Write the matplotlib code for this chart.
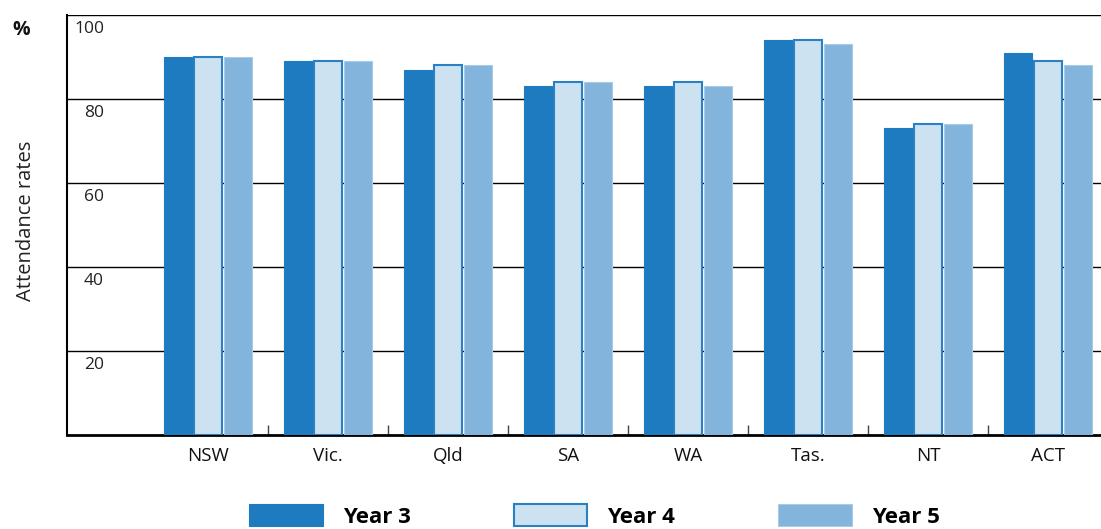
import matplotlib
matplotlib.use("Agg")
import matplotlib.pyplot as plt
import numpy as np

STATES = ["NSW", "Vic.", "Qld", "SA", "WA", "Tas.", "NT", "ACT"]
YEAR3 = [90, 89, 87, 83, 83, 94, 73, 91]
YEAR4 = [90, 89, 88, 84, 84, 94, 74, 89]
YEAR5 = [90, 89, 88, 84, 83, 93, 74, 88]
SERIES = ["Year 3", "Year 4", "Year 5"]
Y_TICKS = [20, 40, 60, 80, 100]

FILLS = ["#1f7bc0", "#cde2f0", "#82b4dc"]
EDGES = ["#1f7bc0", "#2a80c4", "#a9cbe8"]

plt.rcParams["font.family"] = ["Open Sans", "DejaVu Sans"]

fig = plt.figure(figsize=(11.01, 5.29), dpi=100)
ax = fig.add_axes([0.0609, 0.1777, 0.9391, 0.7939])

x = np.arange(len(STATES))
width = 0.233
step = 0.25
for k, vals in enumerate([YEAR3, YEAR4, YEAR5]):
    lw = 1.5 if k == 1 else 0.8
    ax.bar(x + (k - 1) * step, vals, width, color=FILLS[k], edgecolor=EDGES[k],
           linewidth=lw, label=SERIES[k], zorder=3)

ax.set_xlim(-1.175, 7.442)
ax.set_ylim(0, 100)

# gridlines at every labelled value
for v in Y_TICKS:
    ax.axhline(v, color="black", linewidth=1.0, zorder=1)

ax.set_yticks([])
for v in Y_TICKS:
    ax.annotate(str(v), xy=(0.0358, v), xycoords=("axes fraction", "data"),
                xytext=(0, -4), textcoords="offset points",
                ha="right", va="top", fontsize=12.5, color="#222222")

ax.set_xticks(x)
ax.set_xticklabels(STATES, fontsize=13.5, color="#111111")
ax.tick_params(axis="x", which="major", length=0, pad=9)
ax.set_xticks(x[:-1] + 0.5, minor=True)
ax.tick_params(axis="x", which="minor", direction="in", length=7, width=1,
               color="#444444")

for side in ["top", "right"]:
    ax.spines[side].set_visible(False)
ax.spines["left"].set_linewidth(1.5)
ax.spines["bottom"].set_linewidth(2)

fig.text(0.024, 0.582, "Attendance rates", rotation=90, ha="center", va="center",
         fontsize=14.5, color="#222222")
fig.text(0.019, 0.943, "%", ha="center", va="center", fontsize=14,
         fontweight="bold", color="#111111")

handles, labels = ax.get_legend_handles_labels()
fig.legend(handles, labels, loc="lower center", bbox_to_anchor=(0.54, -0.035),
           ncol=3, frameon=False, handlelength=3.3, handleheight=1.1,
           handletextpad=0.9, columnspacing=4.65,
           prop={"size": 16, "weight": "bold"})

fig.savefig("out.png", dpi=100)
